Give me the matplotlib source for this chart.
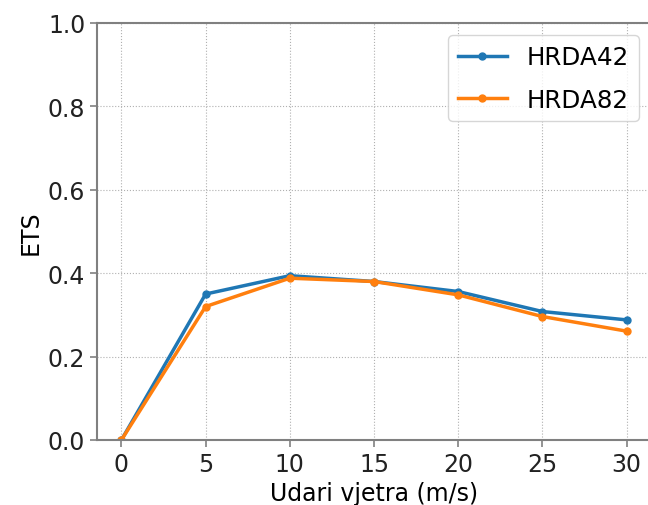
import matplotlib
matplotlib.use("Agg")
import matplotlib.pyplot as plt

# wind gust thresholds (m/s) and ETS scores per model
gusts = [0, 5, 10, 15, 20, 25, 30]
ets_hrda42 = [0.0, 0.350, 0.394, 0.380, 0.356, 0.308, 0.288]
ets_hrda82 = [0.0, 0.320, 0.388, 0.380, 0.348, 0.296, 0.261]
yticks = [0.0, 0.2, 0.4, 0.6, 0.8, 1.0]

plt.rcParams.update({"font.family": "DejaVu Sans", "font.size": 17})

fig = plt.figure(figsize=(6.48, 5.06), dpi=100)
# right edge of the axes sits just past the image border (cropped original)
ax = fig.add_axes([0.1497, 0.1285, 0.855, 0.8241])

ax.plot(gusts, ets_hrda42, "-o", color="#1f77b4", lw=2.5, ms=5, label="HRDA42")
ax.plot(gusts, ets_hrda82, "-o", color="#ff7f0e", lw=2.5, ms=5, label="HRDA82")

ax.set_ylim(0, 1.0)
ax.set_yticks(yticks)
ax.set_xticks(gusts)
ax.set_xlim(-1.45, 31.45)
ax.grid(True, ls=":", color="#b0b0b0", lw=0.8)
for name, s in ax.spines.items():
    s.set_color("#808080")
    s.set_linewidth(1.5)
ax.spines["right"].set_visible(False)
ax.tick_params(colors="#808080", labelcolor="#222222", width=1.2, length=5)
ax.set_xlabel("Udari vjetra (m/s)")
ax.set_ylabel("ETS")
ax.legend(loc="upper right", fontsize=17.7, handlelength=2.0, labelspacing=0.75)

fig.savefig("out.png", dpi=100)
